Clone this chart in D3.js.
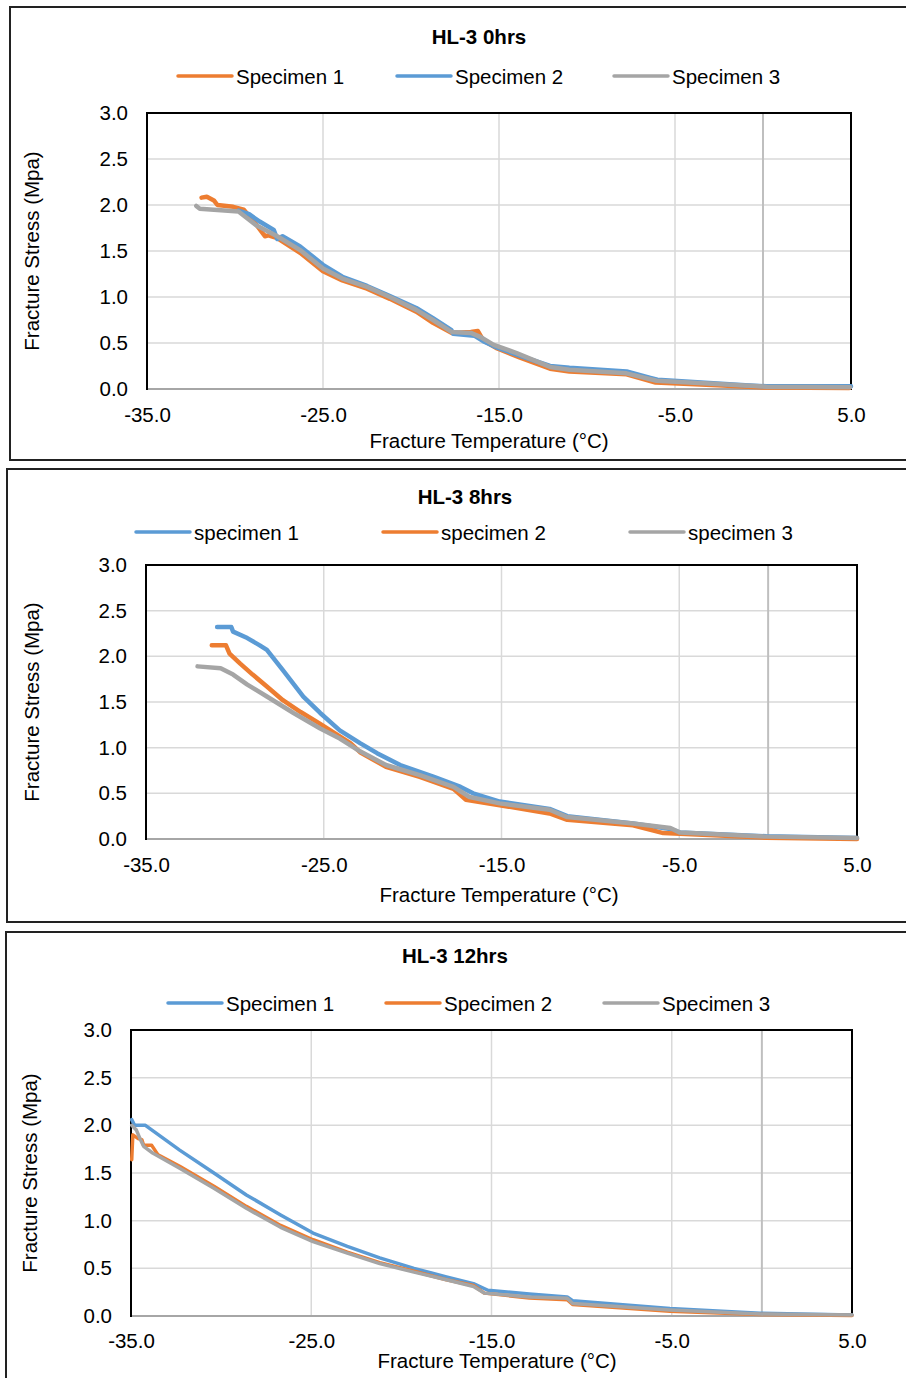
<!DOCTYPE html>
<html>
<head>
<meta charset="utf-8">
<script src="https://cdn.jsdelivr.net/npm/d3@7"></script>
<style>
  body { margin: 0; background: #fff; }
  text { font-family: "Liberation Sans", Arial, sans-serif; fill: #000; }
</style>
</head>
<body>
<div id="chart"></div>
<script>
// ---- data ----
var xTicks = [-35, -25, -15, -5, 5];
var yTicks = [0, 0.5, 1.0, 1.5, 2.0, 2.5, 3.0];
var titles = ['HL-3 0hrs', 'HL-3 8hrs', 'HL-3 12hrs'];
var names0 = ['Specimen 1', 'Specimen 2', 'Specimen 3'];
var names8 = ['specimen 1', 'specimen 2', 'specimen 3'];
var names12 = ['Specimen 1', 'Specimen 2', 'Specimen 3'];
var xTitle = 'Fracture Temperature (°C)';
var yTitle = 'Fracture Stress (Mpa)';

// [temperature, stress]
var h0s1 = [[-31.9, 2.08], [-31.6, 2.09], [-31.2, 2.05], [-31.0, 2.00], [-30.1, 1.98], [-29.5, 1.95],
  [-28.8, 1.79], [-28.3, 1.66], [-28.1, 1.67], [-27.6, 1.64], [-26.3, 1.48], [-25.0, 1.28], [-23.9, 1.18],
  [-22.5, 1.09], [-21.2, 0.98], [-19.7, 0.84], [-18.75, 0.72], [-17.7, 0.61], [-16.6, 0.62], [-16.2, 0.63],
  [-15.9, 0.53], [-15.1, 0.44], [-13.8, 0.34], [-12.1, 0.22], [-11.0, 0.19], [-7.75, 0.16], [-6.1, 0.07],
  [-2.6, 0.04], [0.2, 0.015], [4.9, 0.01]];
var h0s2 = [[-29.8, 1.94], [-29.2, 1.90], [-28.6, 1.82], [-27.8, 1.73], [-27.6, 1.63], [-27.3, 1.66],
  [-26.3, 1.55], [-25.0, 1.35], [-23.9, 1.22], [-22.5, 1.12], [-21.2, 1.01], [-19.7, 0.88], [-18.75, 0.77],
  [-17.7, 0.64], [-17.6, 0.60], [-16.4, 0.58], [-15.9, 0.52], [-15.1, 0.45], [-13.8, 0.36], [-12.1, 0.25],
  [-11.0, 0.23], [-7.75, 0.19], [-6.4, 0.12], [-6.0, 0.10], [-2.6, 0.06], [-1.0, 0.04], [0.2, 0.03], [5.0, 0.03]];
var h0s3 = [[-32.2, 1.99], [-32.0, 1.96], [-29.8, 1.93], [-28.8, 1.78], [-27.6, 1.66], [-26.3, 1.51],
  [-25.0, 1.31], [-23.9, 1.20], [-22.5, 1.11], [-21.2, 1.00], [-19.7, 0.86], [-18.75, 0.75], [-17.7, 0.62],
  [-16.6, 0.61], [-16.1, 0.57], [-15.3, 0.48], [-14.0, 0.39], [-12.1, 0.24], [-11.0, 0.21], [-7.75, 0.17],
  [-6.05, 0.09], [-2.6, 0.054], [0.2, 0.025], [4.95, 0.018]];

var h8s1 = [[-31.0, 2.32], [-30.2, 2.32], [-30.1, 2.27], [-29.3, 2.20], [-28.6, 2.12], [-28.2, 2.07],
  [-27.3, 1.85], [-26.15, 1.56], [-25.2, 1.38], [-24.1, 1.19], [-22.96, 1.05], [-22.0, 0.94], [-20.7, 0.81],
  [-18.8, 0.68], [-17.3, 0.57], [-16.6, 0.50], [-15.1, 0.41], [-12.3, 0.33], [-11.3, 0.25], [-7.6, 0.17],
  [-5.5, 0.11], [-4.96, 0.07], [-0.1, 0.03], [5.0, 0.01]];
var h8s2 = [[-31.3, 2.12], [-30.5, 2.12], [-30.3, 2.03], [-29.7, 1.92], [-29.0, 1.80], [-28.2, 1.67],
  [-27.3, 1.52], [-26.3, 1.39], [-25.2, 1.26], [-23.5, 1.05], [-22.96, 0.95], [-21.5, 0.79], [-19.6, 0.68],
  [-17.7, 0.55], [-17.0, 0.43], [-15.1, 0.37], [-12.3, 0.28], [-11.3, 0.21], [-7.6, 0.15], [-5.9, 0.065],
  [-0.1, 0.015], [5.0, 0.0]];
var h8s3 = [[-32.1, 1.89], [-30.8, 1.87], [-30.1, 1.80], [-29.3, 1.69], [-28.2, 1.56], [-26.7, 1.38],
  [-25.2, 1.21], [-24.1, 1.10], [-22.96, 0.96], [-21.5, 0.81], [-19.6, 0.70], [-17.7, 0.57], [-16.8, 0.46],
  [-15.1, 0.39], [-12.3, 0.32], [-11.3, 0.24], [-7.6, 0.17], [-5.5, 0.12], [-4.96, 0.07], [-0.1, 0.026], [5.0, 0.01]];

var h12s1 = [[-34.96, 2.06], [-34.8, 2.00], [-34.2, 2.00], [-32.3, 1.74], [-30.4, 1.50], [-28.6, 1.27],
  [-26.7, 1.06], [-24.9, 0.87], [-23.0, 0.73], [-21.2, 0.61], [-19.3, 0.50], [-17.5, 0.41], [-16.0, 0.34],
  [-15.2, 0.27], [-12.9, 0.23], [-10.8, 0.20], [-10.5, 0.16], [-5.1, 0.08], [-0.1, 0.03], [5.0, 0.01]];
var h12s2 = [[-34.96, 1.64], [-34.9, 1.90], [-34.6, 1.86], [-34.4, 1.85], [-34.3, 1.79], [-33.85, 1.79],
  [-33.5, 1.69], [-32.3, 1.57], [-30.4, 1.36], [-28.6, 1.15], [-26.7, 0.95], [-24.9, 0.80], [-23.0, 0.67],
  [-21.2, 0.56], [-19.3, 0.47], [-17.5, 0.38], [-16.0, 0.32], [-15.4, 0.24], [-12.9, 0.19], [-10.8, 0.17],
  [-10.5, 0.12], [-5.1, 0.05], [-0.1, 0.015], [5.0, 0.005]];
var h12s3 = [[-34.96, 2.00], [-34.7, 1.95], [-34.5, 1.86], [-34.3, 1.78], [-33.8, 1.71], [-32.3, 1.55],
  [-30.4, 1.34], [-28.6, 1.13], [-26.7, 0.93], [-24.9, 0.78], [-23.0, 0.66], [-21.2, 0.55], [-19.3, 0.46],
  [-17.5, 0.38], [-16.0, 0.31], [-15.4, 0.24], [-12.9, 0.20], [-10.8, 0.185], [-10.5, 0.13], [-5.1, 0.063],
  [-0.1, 0.02], [5.0, 0.01]];

var orange = '#ED7D31', blue = '#5B9BD5', gray = '#A5A5A5';

var panels = [
  { frame: [10, 7, 902, 453], plot: [147, 113, 851, 389], title: titles[0], titleX: 479, titleY: 44,
    legY: 76, legX: [178, 397, 614], names: names0, colors: [orange, blue, gray],
    series: [h0s1, h0s2, h0s3], lw: 4.5, xtY: 448, xtX: 489, ytX: 32, pad: 18 },
  { frame: [7, 469, 905, 453], plot: [146, 565, 857, 839], title: titles[1], titleX: 465, titleY: 504,
    legY: 532, legX: [136, 383, 630], names: names8, colors: [blue, orange, gray],
    series: [h8s1, h8s2, h8s3], lw: 4.5, xtY: 902, xtX: 499, ytX: 32, pad: 18 },
  { frame: [6, 932, 906, 460], plot: [131, 1030, 852, 1316], title: titles[2], titleX: 455, titleY: 963,
    legY: 1003, legX: [168, 386, 604], names: names12, colors: [blue, orange, gray],
    series: [h12s1, h12s2, h12s3], lw: 3.5, xtY: 1368, xtX: 497, ytX: 30, pad: 17 }
];

var svg = d3.select('#chart').append('svg')
  .attr('width', 906)
  .attr('height', 1378);

var f1 = d3.format('.1f');
var fmt = function (d) { return f1(d).replace('\u2212', '-'); };
var fs = 20.5;

panels.forEach(function (p) {
  var f = p.frame;
  svg.append('rect')
    .attr('x', f[0]).attr('y', f[1]).attr('width', f[2]).attr('height', f[3])
    .attr('fill', 'none').attr('stroke', '#222').attr('stroke-width', 2);

  var x = d3.scaleLinear().domain([-35, 5]).range([p.plot[0], p.plot[2]]);
  var y = d3.scaleLinear().domain([0, 3]).range([p.plot[3], p.plot[1]]);

  var g = svg.append('g');

  // gridlines
  g.selectAll('.hg').data(yTicks.slice(1, -1)).enter().append('line')
    .attr('x1', p.plot[0]).attr('x2', p.plot[2])
    .attr('y1', function (d) { return y(d); }).attr('y2', function (d) { return y(d); })
    .attr('stroke', '#d9d9d9').attr('stroke-width', 1.5);
  g.selectAll('.vg').data(xTicks.slice(1, -1)).enter().append('line')
    .attr('y1', p.plot[1]).attr('y2', p.plot[3])
    .attr('x1', function (d) { return x(d); }).attr('x2', function (d) { return x(d); })
    .attr('stroke', '#d9d9d9').attr('stroke-width', 1.5);
  // vertical axis crossing at 0
  g.append('line')
    .attr('x1', x(0)).attr('x2', x(0)).attr('y1', p.plot[1]).attr('y2', p.plot[3])
    .attr('stroke', '#bfbfbf').attr('stroke-width', 2);

  // plot area border
  g.append('rect')
    .attr('x', p.plot[0]).attr('y', p.plot[1])
    .attr('width', p.plot[2] - p.plot[0]).attr('height', p.plot[3] - p.plot[1])
    .attr('fill', 'none').attr('stroke', '#000').attr('stroke-width', 2);
  g.append('line')
    .attr('x1', p.plot[0] + 1).attr('x2', p.plot[2] - 1).attr('y1', y(0)).attr('y2', y(0))
    .attr('stroke', '#a6a6a6').attr('stroke-width', 2);

  // series
  var line = d3.line().x(function (d) { return x(d[0]); }).y(function (d) { return y(d[1]); });
  p.series.forEach(function (s, i) {
    g.append('path').datum(s)
      .attr('d', line)
      .attr('fill', 'none')
      .attr('stroke', p.colors[i])
      .attr('stroke-width', p.lw)
      .attr('stroke-linejoin', 'round')
      .attr('stroke-linecap', 'round');
  });

  // axes labels
  var xa = g.append('g').attr('transform', 'translate(0,' + p.plot[3] + ')')
    .call(d3.axisBottom(x).tickValues(xTicks).tickSize(0).tickPadding(p.pad).tickFormat(fmt));
  xa.select('.domain').remove();
  xa.selectAll('text').style('font-size', fs + 'px').attr('fill', '#000');

  var ya = g.append('g').attr('transform', 'translate(' + p.plot[0] + ',0)')
    .call(d3.axisLeft(y).tickValues(yTicks).tickSize(0).tickPadding(19).tickFormat(fmt));
  ya.select('.domain').remove();
  ya.selectAll('text').style('font-size', fs + 'px').attr('fill', '#000');

  // titles
  svg.append('text').attr('x', p.titleX).attr('y', p.titleY)
    .attr('text-anchor', 'middle').style('font-size', '20.5px').style('font-weight', 'bold')
    .text(p.title);
  svg.append('text').attr('x', p.xtX).attr('y', p.xtY)
    .attr('text-anchor', 'middle').style('font-size', fs + 'px')
    .text(xTitle);
  svg.append('text')
    .attr('transform', 'translate(' + (p.ytX + 7) + ',' + ((p.plot[1] + p.plot[3]) / 2) + ') rotate(-90)')
    .attr('text-anchor', 'middle').style('font-size', fs + 'px')
    .text(yTitle);

  // legend
  p.names.forEach(function (n, i) {
    svg.append('line')
      .attr('x1', p.legX[i]).attr('x2', p.legX[i] + 54)
      .attr('y1', p.legY).attr('y2', p.legY)
      .attr('stroke', p.colors[i]).attr('stroke-width', 3.5).attr('stroke-linecap', 'round');
    svg.append('text')
      .attr('x', p.legX[i] + 58).attr('y', p.legY + 8)
      .style('font-size', fs + 'px')
      .text(n);
  });
});
</script>
</body>
</html>
